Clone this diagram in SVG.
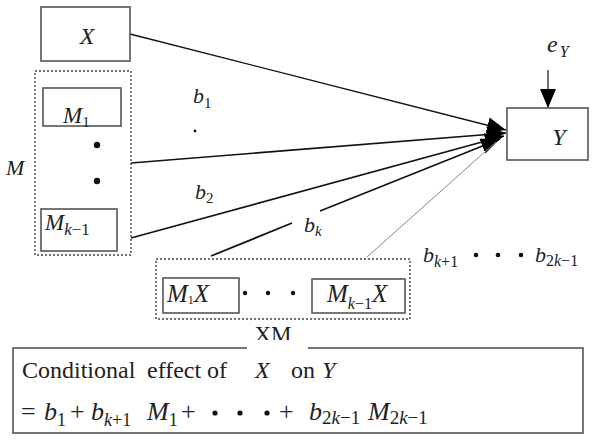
<svg xmlns="http://www.w3.org/2000/svg" width="600" height="445" viewBox="0 0 600 445">
<defs>
<marker id="ah" markerUnits="userSpaceOnUse" markerWidth="19" markerHeight="16" viewBox="0 0 19 16" refX="19" refY="8" orient="auto">
<path d="M0,0 L19,8 L0,16 z" fill="#000"/>
</marker>
</defs>
<rect width="600" height="445" fill="#fff"/>

<g id="connectors" stroke="#111" fill="none">
<line x1="130" y1="34" x2="506" y2="130" stroke-width="1.3" marker-end="url(#ah)"/>
<line x1="131" y1="163" x2="506" y2="133" stroke-width="1.6" marker-end="url(#ah)"/>
<line x1="131" y1="238" x2="504" y2="136" stroke-width="1.6" marker-end="url(#ah)"/>
<line x1="211" y1="256" x2="292" y2="223" stroke-width="1.8"/>
<line x1="320" y1="211" x2="500" y2="139" stroke-width="1.8" marker-end="url(#ah)"/>
<line x1="367" y1="257" x2="496" y2="142" stroke="#888" stroke-width="1"/>
<line x1="548" y1="70" x2="548" y2="108" stroke-width="1.2" marker-end="url(#ah)"/>
</g>

<g font-family="Liberation Serif, Tinos, Times New Roman, serif" fill="#222">
<g id="node-X">
<rect x="41" y="7" width="89" height="54" fill="#fff" stroke="#555" stroke-width="1.6"/>
<text x="87" y="44" font-size="24" font-style="italic" text-anchor="middle">X</text>
</g>

<g id="node-M">
<rect x="35" y="71" width="96" height="184" fill="none" stroke="#444" stroke-width="1.4" stroke-dasharray="2 2"/>
<text x="6" y="175" font-size="22" font-style="italic">M</text>
<g id="node-M1">
<rect x="43" y="88" width="78" height="38" fill="#fff" stroke="#555" stroke-width="1.6"/>
<text x="63" y="123" font-size="23" font-style="italic">M<tspan font-size="15" font-style="normal" dy="4">1</tspan></text>
</g>
<circle cx="97" cy="145" r="3.2" fill="#111"/>
<circle cx="97" cy="181" r="3.2" fill="#111"/>
<g id="node-Mk1">
<rect x="41" y="209" width="76" height="42" fill="#fff" stroke="#555" stroke-width="1.6"/>
<text x="45" y="230" font-size="23" font-style="italic">M<tspan font-size="17" dy="5">k</tspan><tspan font-size="17" font-style="normal">−1</tspan></text>
</g>
</g>

<g id="node-Y">
<rect x="507" y="108" width="81" height="52" fill="#fff" stroke="#555" stroke-width="1.6"/>
<text x="559" y="145" font-size="24" font-style="italic" text-anchor="middle">Y</text>
</g>

<g id="node-eY">
<text x="547" y="52" font-size="24" font-style="italic">e<tspan font-size="16" dx="2" dy="5">Y</tspan></text>
</g>

<g id="node-XM">
<rect x="156" y="259" width="254" height="60" fill="none" stroke="#444" stroke-width="1.4" stroke-dasharray="2 2"/>
<g id="node-M1X">
<rect x="163" y="278" width="76" height="35" fill="#fff" stroke="#555" stroke-width="1.6"/>
<text x="167" y="302" font-size="25" font-style="italic">M<tspan font-size="12" font-style="normal" dy="2">1</tspan><tspan dy="-2">X</tspan></text>
</g>
<circle cx="245" cy="293" r="2.2" fill="#111"/>
<circle cx="268" cy="293" r="2.2" fill="#111"/>
<circle cx="293" cy="293" r="2.2" fill="#111"/>
<g id="node-Mk1X">
<rect x="312" y="279" width="93" height="34" fill="#fff" stroke="#555" stroke-width="1.6"/>
<text x="327" y="302" font-size="25" font-style="italic">M<tspan font-size="16" dy="7">k</tspan><tspan font-size="16" font-style="normal">−1</tspan><tspan dy="-7">X</tspan></text>
</g>
<rect x="247" y="324" width="61" height="25" fill="#fff"/>
<text x="273" y="342" font-size="23" text-anchor="middle">XM</text>
</g>

<g id="labels" font-style="italic">
<text x="193" y="103" font-size="22">b<tspan font-size="15" font-style="normal" dy="5">1</tspan></text>
<circle cx="195" cy="131" r="1.4" fill="#111"/>
<text x="195" y="199" font-size="22">b<tspan font-size="15" font-style="normal" dy="4">2</tspan></text>
<text x="304" y="232" font-size="22">b<tspan font-size="15" dy="4">k</tspan></text>
<text x="423" y="262" font-size="22">b<tspan font-size="16" dy="5">k</tspan><tspan font-size="16" font-style="normal">+1</tspan></text>
<circle cx="476" cy="255" r="2.3" fill="#111"/>
<circle cx="498" cy="255" r="2.3" fill="#111"/>
<circle cx="521" cy="255" r="2.3" fill="#111"/>
<text x="535" y="262" font-size="22">b<tspan font-size="16" font-style="normal" dy="4">2</tspan><tspan font-size="16">k</tspan><tspan font-size="16" font-style="normal">−1</tspan></text>
</g>

<g id="node-formula">
<rect x="13" y="348" width="570" height="85" fill="none" stroke="#555" stroke-width="1.6"/>
<rect x="247" y="340" width="61" height="10" fill="#fff"/>
<text x="22" y="378" font-size="24">Conditional</text>
<text x="147" y="378" font-size="24">effect</text>
<text x="207" y="378" font-size="24">of</text>
<text x="255" y="378" font-size="24" font-style="italic">X</text>
<text x="291" y="378" font-size="24">on</text>
<text x="322" y="378" font-size="24" font-style="italic">Y</text>
<text x="21" y="420" font-size="26">=</text>
<text x="44" y="420" font-size="26" font-style="italic">b<tspan font-size="18" font-style="normal" dy="6">1</tspan></text>
<text x="70" y="420" font-size="26">+</text>
<text x="91" y="420" font-size="26" font-style="italic">b<tspan font-size="18" dy="6">k</tspan><tspan font-size="18" font-style="normal">+1</tspan></text>
<text x="147" y="420" font-size="26" font-style="italic">M<tspan font-size="18" font-style="normal" dy="6">1</tspan></text>
<text x="181" y="420" font-size="26">+</text>
<circle cx="215" cy="413" r="2.6" fill="#111"/>
<circle cx="240" cy="413" r="2.6" fill="#111"/>
<circle cx="267" cy="413" r="2.6" fill="#111"/>
<text x="279" y="420" font-size="26">+</text>
<text x="309" y="420" font-size="26" font-style="italic">b<tspan font-size="19" font-style="normal" dy="4">2</tspan><tspan font-size="19">k</tspan><tspan font-size="19" font-style="normal">−1</tspan></text>
<text x="368" y="420" font-size="26" font-style="italic">M<tspan font-size="19" font-style="normal" dy="4">2</tspan><tspan font-size="19">k</tspan><tspan font-size="19" font-style="normal">−1</tspan></text>
</g>
</g>
</svg>
